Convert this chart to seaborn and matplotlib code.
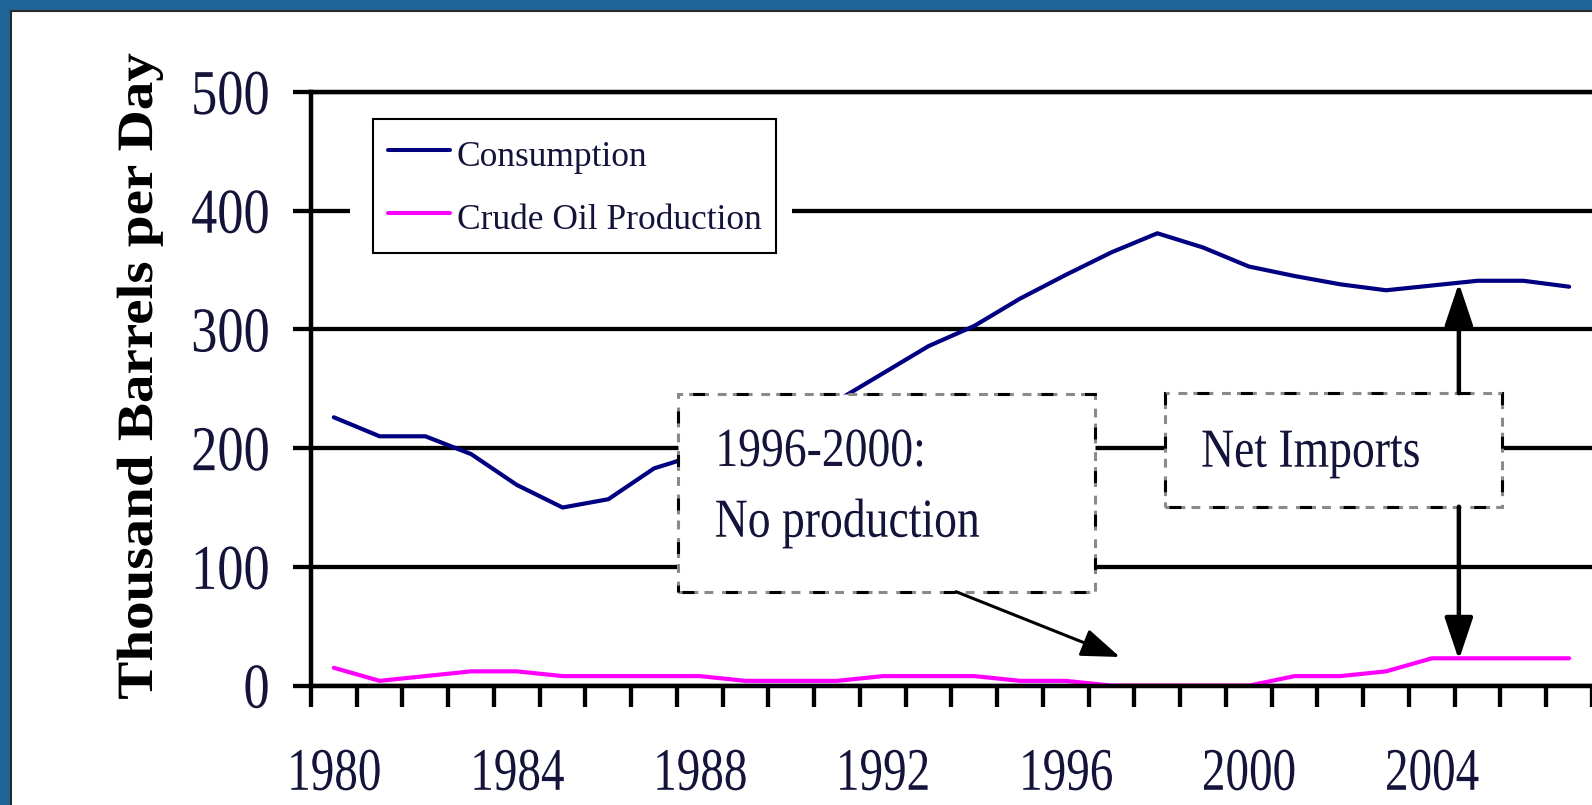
import numpy as np
import pandas as pd
import seaborn as sns
import matplotlib.pyplot as plt
from matplotlib.patches import Rectangle
from matplotlib.lines import Line2D
from matplotlib.patheffects import AbstractPathEffect
from matplotlib.transforms import Affine2D


# values, thousand barrels per day
years = list(range(1980, 2008))
consumption = [226, 210, 210, 195, 169, 150, 157, 183, 195, 208, 222, 240, 263, 286,
               303, 326, 346, 365, 381, 369, 353, 345, 338, 333, 337, 341, 341, 336]
production = [15, 4, 8, 12, 12, 8, 8, 8, 8, 4, 4, 4, 8, 8,
              8, 4, 4, 0, 0, 0, 0, 8, 8, 12, 23, 23, 23, 23]
series_names = ["Consumption", "Crude Oil Production"]
series_colors = ["#000080", "#ff00ff"]
y_ticks = [0, 100, 200, 300, 400, 500]
x_labels = [1980, 1984, 1988, 1992, 1996, 2000, 2004]

TEXT = "#14143a"


# the text in the picture is narrower than the font, so squeeze it sideways
class Squeeze(AbstractPathEffect):
    def __init__(self, sx, anchor=0.5):
        super().__init__()
        self.sx = sx
        self.anchor = anchor

    def draw_path(self, renderer, gc, tpath, affine, rgbFace=None):
        ext = tpath.get_extents()
        x0 = ext.x0 + self.anchor * ext.width
        t = Affine2D().translate(-x0, 0).scale(self.sx, 1).translate(x0, 0)
        renderer.draw_path(gc, tpath, t + affine, rgbFace)


sns.set_style("white")
plt.rcParams["font.family"] = ["Liberation Serif", "DejaVu Serif"]

df = pd.DataFrame({
    "year": years * 2,
    "value": consumption + production,
    "series": [series_names[0]] * len(years) + [series_names[1]] * len(years),
})

fig = plt.figure(figsize=(15.92, 8.05), dpi=100, facecolor="#1f6698")
# white slide panel inside the blue frame
fig.add_artist(Rectangle((11 / 1592, -0.02), 1.0, (805 - 11) / 805 + 0.02,
                         transform=fig.transFigure, facecolor="white",
                         edgecolor="#2a2a2a", lw=1.5, zorder=-1))

ax = fig.add_axes([0.19535, 0.14832, 0.80465, 0.73739])
sns.lineplot(data=df, x="year", y="value", hue="series",
             palette=dict(zip(series_names, series_colors)),
             linewidth=3.0, legend=False, ax=ax, zorder=2)

ax.set_xlim(1979.5, 2007.5)
ax.set_ylim(0, 500)
ax.set_xlabel("")
ax.set_ylabel("")
ax.set_yticks(y_ticks)
ax.set_xticks(x_labels)
ax.set_xticks(np.arange(1979.5, 2008, 1), minor=True)
ax.set_axisbelow(True)
ax.yaxis.grid(True, color="black", lw=3.1)
ax.xaxis.grid(False)

for side in ["top", "left", "bottom"]:
    ax.spines[side].set_color("black")
    ax.spines[side].set_linewidth(3.2)
ax.spines["right"].set_visible(False)

ax.tick_params(axis="y", left=True, length=13, width=3.1, color="black",
               pad=16.5, labelsize=46, labelcolor=TEXT)
ax.tick_params(axis="x", which="major", bottom=True, length=0, pad=45.5,
               labelsize=43.5, labelcolor=TEXT)
ax.tick_params(axis="x", which="minor", bottom=True, length=15, width=3.1,
               color="black", direction="out")

for t in ax.get_yticklabels():
    t.set_path_effects([Squeeze(0.82, 1.0)])
for t in ax.get_xticklabels():
    t.set_path_effects([Squeeze(0.78, 0.5)])

fig.text(140 / 1592, 1 - 376 / 805, "Thousand Barrels per Day", rotation=90,
         ha="center", va="center", fontsize=36.7, fontweight="bold", color="black",
         path_effects=[Squeeze(1.12, 0.5)])

# legend with a white gap in the 400 gridline around it
ax.add_patch(Rectangle((1980.35, 355), 9.66, 128, facecolor="white",
                       edgecolor="none", zorder=1))
handles = [Line2D([], [], color=c, lw=2.9) for c in series_colors]
leg = ax.legend(handles, series_names, loc="upper left", bbox_to_anchor=(0.04817, 0.9545),
                borderaxespad=0, frameon=True, fancybox=False, edgecolor="black",
                framealpha=1, fontsize=25.5, handlelength=1.75, handleheight=1.4,
                handletextpad=0.2, borderpad=0.42, labelspacing=0.62, labelcolor=TEXT)
leg.get_frame().set_linewidth(1.5)
leg.set_zorder(6)


def dashed_box(x0, y0, x1, y1):
    ax.add_patch(Rectangle((x0, y0), x1 - x0, y1 - y0, facecolor="white",
                           edgecolor="#8a8a8a", lw=2.2,
                           linestyle=(0, (6.5, 2.0, 2.9, 2.85)), zorder=4))
    ax.add_patch(Rectangle((x0, y0), x1 - x0, y1 - y0, fill=False,
                           edgecolor="black", lw=2.2,
                           linestyle=(12.95, (3.9, 10.35)), zorder=4))


dashed_box(1987.53, 79.1, 1996.64, 245.7)
dashed_box(1998.16, 150.7, 2005.53, 246.3)

box_font = dict(fontsize=39.6, color=TEXT, ha="left", va="baseline", zorder=5,
                path_effects=[Squeeze(0.83, 0.0)])
ax.text(1988.32, 185, "1996-2000:", **box_font)
ax.text(1988.32, 125.4, "No production", **box_font)
ax.text(1998.95, 184.4, "Net Imports", **box_font)

ax.annotate("", xy=(1997.18, 24.1), xytext=(1993.6, 79.1), zorder=5,
            arrowprops=dict(arrowstyle="-|>,head_length=1.7,head_width=0.62",
                            color="black", lw=2.2, shrinkA=0, shrinkB=0,
                            mutation_scale=14))
for y_end, y_tip in [(246.3, 339.1), (150.7, 21.6)]:
    ax.annotate("", xy=(2004.59, y_tip), xytext=(2004.59, y_end), zorder=5,
                arrowprops=dict(arrowstyle="-|>,head_length=1.85,head_width=0.62",
                                color="black", lw=3.2, shrinkA=0, shrinkB=0,
                                mutation_scale=14))

fig.savefig("out.png", dpi=100, facecolor=fig.get_facecolor())
